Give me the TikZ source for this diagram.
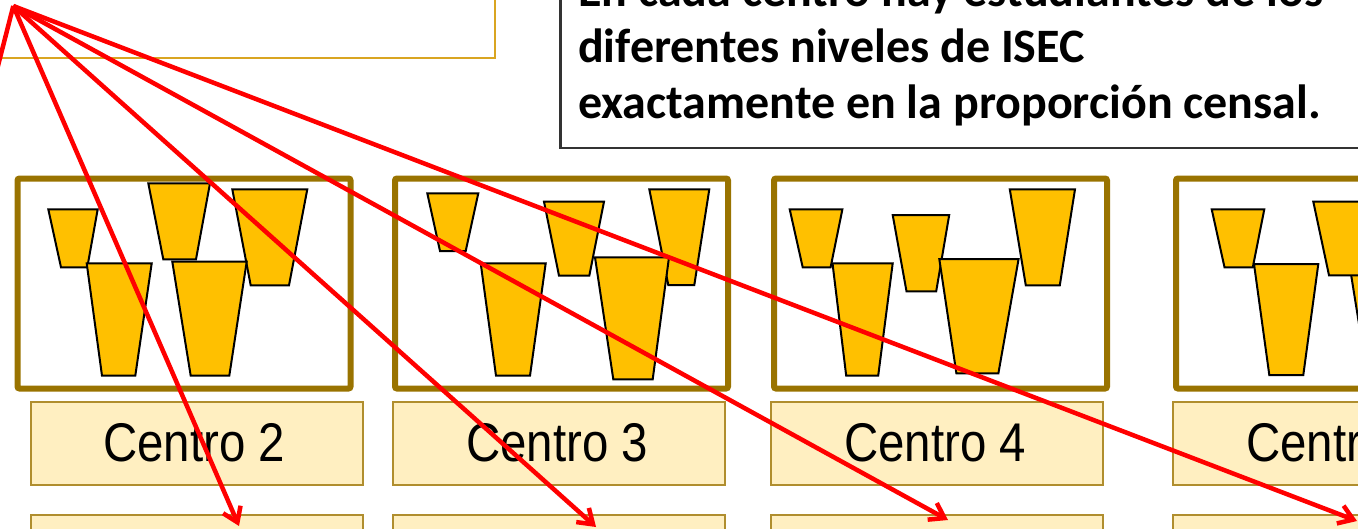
\documentclass[tikz,border=0pt]{standalone}
\usepackage{fontspec}
\newfontfamily\calib{Carlito}
\newfontfamily\arialf{Liberation Sans}
\usetikzlibrary{arrows.meta}
\definecolor{frameC}{HTML}{997300}
\definecolor{trapC}{HTML}{FFC000}
\definecolor{labelF}{HTML}{FFEFC1}
\definecolor{labelD}{HTML}{B08E2E}
\definecolor{topboxC}{HTML}{D9A521}
\definecolor{noteC}{HTML}{333333}
\definecolor{arrowC}{HTML}{FF0000}
\begin{document}
\begin{tikzpicture}[x=1pt,y=-1pt,
  framebox/.style={draw=frameC, line width=6pt, rounded corners=2pt, anchor=north west,
    minimum width=333pt, minimum height=210pt, inner sep=0pt},
  trap/.style={fill=trapC, draw=black, line width=2pt, line join=miter},
  lblbox/.style={draw=labelD, fill=labelF, line width=2pt, anchor=north west,
    minimum width=332pt, minimum height=83pt, inner sep=0pt},
  lbltext/.style={font=\arialf\fontsize{54.5}{60}\selectfont, anchor=base, inner sep=0pt},
  notetext/.style={font=\calib\bfseries\fontsize{48}{56}\selectfont, anchor=base west, inner sep=0pt},
  redline/.style={draw=arrowC, line width=4.5pt},
  redarrow/.style={redline, -{Straight Barb[length=14pt,width=19pt]}}
]
\useasboundingbox (0,0) rectangle (1358,528);
\clip (0,0) rectangle (1358,528);

% top boxes
\node[draw=topboxC, line width=2.2pt, anchor=south east, minimum width=700pt,
  minimum height=200pt, inner sep=0pt] (tlbox) at (496,59) {};
\node[draw=noteC, line width=2.5pt, anchor=south west, minimum width=900pt,
  minimum height=300pt, inner sep=0pt] (trbox) at (559,149) {};
\node[notetext] (n1) at (578,6) {En cada centro hay estudiantes de los};
\node[notetext] (n2) at (578,62) {diferentes niveles de ISEC};
\node[notetext] (n3) at (578,118) {exactamente en la proporción censal.};

% frames
\node[framebox] (f1) at (14.5,175.5) {};
\node[framebox] (f2) at (392,175.5) {};
\node[framebox] (f3) at (771,175.5) {};
\node[framebox] (f4) at (1173,175.5) {};

% trapezoids box 1
\draw[trap] (48.3,209.3) -- (97.7,209.3) -- (87.3,267.3) -- (61,267.3) -- cycle;
\draw[trap] (148.3,183.3) -- (210,183.3) -- (196,259.3) -- (163.3,259.3) -- cycle;
\draw[trap] (232.3,189.3) -- (307.3,189.3) -- (289,285.3) -- (250.7,285.3) -- cycle;
\draw[trap] (86.7,263.3) -- (151.7,263.3) -- (135.3,375.7) -- (102,375.7) -- cycle;
\draw[trap] (172.3,261.7) -- (246.7,261.7) -- (229.3,375.7) -- (190.7,375.7) -- cycle;
% box 2
\draw[trap] (427.3,193.3) -- (478.3,193.3) -- (465.7,251) -- (440,251) -- cycle;
\draw[trap] (544,201.7) -- (604,201.7) -- (589.3,275.7) -- (559,275.7) -- cycle;
\draw[trap] (649.3,189.3) -- (709.3,189.3) -- (694.3,285) -- (668.3,285) -- cycle;
\draw[trap] (480.7,263.3) -- (545.7,263.3) -- (530,375.7) -- (496,375.7) -- cycle;
\draw[trap] (595,257.3) -- (669,257.3) -- (652.7,379.3) -- (613.3,379.3) -- cycle;
% box 3
\draw[trap] (789.7,209.3) -- (842.4,209.3) -- (830.6,267.3) -- (802.7,267.3) -- cycle;
\draw[trap] (892.7,215) -- (949.2,215) -- (936.2,291.3) -- (906.5,291.3) -- cycle;
\draw[trap] (1009.8,189.3) -- (1075,189.3) -- (1059.8,285.3) -- (1025.8,285.3) -- cycle;
\draw[trap] (832.5,263.3) -- (892.7,263.3) -- (878.2,375.7) -- (846.2,375.7) -- cycle;
\draw[trap] (939.3,259) -- (1018.6,259) -- (998.4,373.3) -- (956.4,373.3) -- cycle;
% box 4
\draw[trap] (1211.7,209.3) -- (1264.3,209.3) -- (1252.8,267.3) -- (1224.5,267.3) -- cycle;
\draw[trap] (1350,268) -- (1425,268) -- (1405,380) -- (1368,380) -- cycle;
\draw[trap] (1313.3,201.7) -- (1375,201.7) -- (1360,275.3) -- (1329,275.3) -- cycle;
\draw[trap] (1254,264) -- (1318.3,264) -- (1303.3,375) -- (1269.3,375) -- cycle;

% label boxes
\node[lblbox] (c2) at (29.5,401) {};
\node[lblbox] (c3) at (391.5,401) {};
\node[lblbox] (c4) at (770,401) {};
\node[lblbox] (c5) at (1172,401) {};
\node[lbltext] (t2) at (194,461) {\scalebox{0.87}[1]{Centro 2}};
\node[lbltext] (t3) at (557,461) {\scalebox{0.87}[1]{Centro 3}};
\node[lbltext] (t4) at (935,461) {\scalebox{0.87}[1]{Centro 4}};
\node[lbltext] (t5) at (1337,461) {\scalebox{0.87}[1]{Centro 5}};

% bottom row boxes
\node[lblbox] (d2) at (29.5,514) {};
\node[lblbox] (d3) at (391.5,514) {};
\node[lblbox] (d4) at (770,514) {};
\node[lblbox] (d5) at (1172,514) {};

% red connectors
\coordinate (apex) at (13.3,6);
\coordinate (lft) at (-13.3,110);
\coordinate (e1) at (239,526);
\coordinate (e2) at (596,527);
\coordinate (e3) at (948,520);
\coordinate (e4) at (1357,521);
\draw[redline] (apex) -- (lft);
\draw[redarrow] (apex) -- (e1);
\draw[redarrow] (apex) -- (e2);
\draw[redarrow] (apex) -- (e3);
\draw[redarrow] (apex) -- (e4);
\end{tikzpicture}
\end{document}
